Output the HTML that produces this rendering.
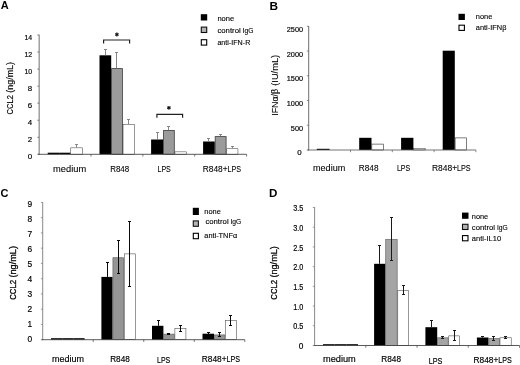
<!DOCTYPE html>
<html><head><meta charset="utf-8"><title>Figure</title>
<style>
html,body{margin:0;padding:0;background:#fff;}
body{width:520px;height:365px;overflow:hidden;font-family:'Liberation Sans', sans-serif;}
svg{display:block;font-family:'Liberation Sans', sans-serif;}
</style></head><body>
<svg width="520" height="365" viewBox="0 0 520 365">
<defs><filter id="soft" x="-2%" y="-2%" width="104%" height="104%"><feGaussianBlur stdDeviation="0.33"/></filter></defs>
<rect width="520" height="365" fill="#fff"/>
<g filter="url(#soft)">
<rect x="47.70" y="152.70" width="11.50" height="1.60" fill="#000"/>
<rect x="59.20" y="152.70" width="11.30" height="1.60" fill="#000"/>
<rect x="70.75" y="147.85" width="11.80" height="6.45" fill="#fff" stroke="#333" stroke-width="0.5"/>
<rect x="99.50" y="55.30" width="11.70" height="99.00" fill="#000"/>
<rect x="111.60" y="68.60" width="10.80" height="85.70" fill="#9b9b9b" stroke="#3c3c3c" stroke-width="0.8"/>
<rect x="123.05" y="124.45" width="11.40" height="29.85" fill="#fff" stroke="#333" stroke-width="0.5"/>
<rect x="151.10" y="139.50" width="12.10" height="14.80" fill="#000"/>
<rect x="163.60" y="130.40" width="10.70" height="23.90" fill="#9b9b9b" stroke="#3c3c3c" stroke-width="0.8"/>
<rect x="174.95" y="151.85" width="11.30" height="2.45" fill="#fff" stroke="#333" stroke-width="0.5"/>
<rect x="203.10" y="141.50" width="11.70" height="12.80" fill="#000"/>
<rect x="215.20" y="136.60" width="10.90" height="17.70" fill="#9b9b9b" stroke="#3c3c3c" stroke-width="0.8"/>
<rect x="226.75" y="148.75" width="11.20" height="5.55" fill="#fff" stroke="#333" stroke-width="0.5"/>
<text x="32.10" y="159.43" font-size="7.9" text-anchor="end" fill="#000" stroke="#000" stroke-width="0.18">0</text>
<text x="32.10" y="142.30" font-size="7.9" text-anchor="end" fill="#000" stroke="#000" stroke-width="0.18">2</text>
<text x="32.10" y="125.17" font-size="7.9" text-anchor="end" fill="#000" stroke="#000" stroke-width="0.18">4</text>
<text x="32.10" y="108.04" font-size="7.9" text-anchor="end" fill="#000" stroke="#000" stroke-width="0.18">6</text>
<text x="32.10" y="90.91" font-size="7.9" text-anchor="end" fill="#000" stroke="#000" stroke-width="0.18">8</text>
<text x="32.10" y="73.79" font-size="7.9" text-anchor="end" fill="#000" stroke="#000" stroke-width="0.18" textLength="7.70" lengthAdjust="spacingAndGlyphs">10</text>
<text x="32.10" y="56.66" font-size="7.9" text-anchor="end" fill="#000" stroke="#000" stroke-width="0.18" textLength="7.70" lengthAdjust="spacingAndGlyphs">12</text>
<text x="32.10" y="39.53" font-size="7.9" text-anchor="end" fill="#000" stroke="#000" stroke-width="0.18" textLength="7.70" lengthAdjust="spacingAndGlyphs">14</text>
<text x="53.10" y="172.25" font-size="9.3" text-anchor="start" fill="#000" stroke="#000" stroke-width="0.1" textLength="33.10" lengthAdjust="spacingAndGlyphs">medium</text>
<text x="110.20" y="172.25" font-size="9.3" text-anchor="start" fill="#000" stroke="#000" stroke-width="0.1" textLength="19.00" lengthAdjust="spacingAndGlyphs">R848</text>
<text x="157.50" y="172.25" font-size="9.3" text-anchor="start" fill="#000" stroke="#000" stroke-width="0.1" textLength="13.30" lengthAdjust="spacingAndGlyphs">LPS</text>
<text x="202.80" y="172.25" font-size="9.3" text-anchor="start" fill="#000" stroke="#000" stroke-width="0.1" textLength="19.97" lengthAdjust="spacingAndGlyphs">R848</text>
<text x="222.77" y="172.25" font-size="9.3" text-anchor="start" fill="#000" stroke="#000" stroke-width="0.1" textLength="4.82" lengthAdjust="spacingAndGlyphs">+</text>
<text x="227.59" y="172.25" font-size="9.3" text-anchor="start" fill="#000" stroke="#000" stroke-width="0.1" textLength="13.51" lengthAdjust="spacingAndGlyphs">LPS</text>
<text x="12.65" y="114.40" font-size="8.8" text-anchor="start" fill="#000" stroke="#000" stroke-width="0.15" textLength="19.29" lengthAdjust="spacingAndGlyphs" transform="rotate(-90 12.65 114.40)">CCL2</text>
<text x="12.65" y="92.71" font-size="8.8" text-anchor="start" fill="#000" stroke="#000" stroke-width="0.15" textLength="30.71" lengthAdjust="spacingAndGlyphs" transform="rotate(-90 12.65 92.71)">(ng/mL)</text>
<text x="0.80" y="9.30" font-size="11" text-anchor="start" fill="#000" font-weight="bold">A</text>
<rect x="200.80" y="14.20" width="6.40" height="6.30" fill="#000"/>
<text x="217.40" y="20.80" font-size="7.3" text-anchor="start" fill="#000" stroke="#000" stroke-width="0.12" textLength="16.80" lengthAdjust="spacingAndGlyphs">none</text>
<rect x="201.30" y="27.10" width="5.40" height="5.40" fill="#b4b4b4" stroke="#111" stroke-width="1.1"/>
<text x="217.40" y="32.90" font-size="7.3" text-anchor="start" fill="#000" stroke="#000" stroke-width="0.12" textLength="23.35" lengthAdjust="spacingAndGlyphs">control</text>
<text x="242.56" y="32.90" font-size="7.3" text-anchor="start" fill="#000" stroke="#000" stroke-width="0.12" textLength="10.84" lengthAdjust="spacingAndGlyphs">IgG</text>
<rect x="201.30" y="39.70" width="5.40" height="5.40" fill="#fff" stroke="#000" stroke-width="1.1"/>
<text x="217.40" y="45.30" font-size="7.3" text-anchor="start" fill="#000" stroke="#000" stroke-width="0.12" textLength="32.90" lengthAdjust="spacingAndGlyphs">anti-IFN-R</text>
<rect x="316.80" y="148.80" width="12.80" height="1.20" fill="#000"/>
<rect x="359.20" y="137.80" width="12.30" height="12.20" fill="#000"/>
<rect x="371.80" y="144.10" width="11.70" height="5.90" fill="#fff" stroke="#2a2a2a" stroke-width="0.6"/>
<rect x="401.10" y="137.80" width="12.30" height="12.20" fill="#000"/>
<rect x="413.65" y="148.65" width="11.50" height="1.35" fill="#fff" stroke="#2a2a2a" stroke-width="0.5"/>
<rect x="442.70" y="50.70" width="12.10" height="99.30" fill="#000"/>
<rect x="455.10" y="137.90" width="11.40" height="12.10" fill="#fff" stroke="#2a2a2a" stroke-width="0.6"/>
<text x="301.70" y="155.13" font-size="7.9" text-anchor="end" fill="#000" stroke="#000" stroke-width="0.18">0</text>
<text x="303.10" y="130.57" font-size="7.9" text-anchor="end" fill="#000" stroke="#000" stroke-width="0.18" textLength="12.24" lengthAdjust="spacingAndGlyphs">500</text>
<text x="303.10" y="106.01" font-size="7.9" text-anchor="end" fill="#000" stroke="#000" stroke-width="0.18" textLength="16.32" lengthAdjust="spacingAndGlyphs">1000</text>
<text x="303.10" y="81.45" font-size="7.9" text-anchor="end" fill="#000" stroke="#000" stroke-width="0.18" textLength="16.32" lengthAdjust="spacingAndGlyphs">1500</text>
<text x="303.10" y="56.89" font-size="7.9" text-anchor="end" fill="#000" stroke="#000" stroke-width="0.18" textLength="16.32" lengthAdjust="spacingAndGlyphs">2000</text>
<text x="303.10" y="32.33" font-size="7.9" text-anchor="end" fill="#000" stroke="#000" stroke-width="0.18" textLength="16.32" lengthAdjust="spacingAndGlyphs">2500</text>
<text x="313.00" y="171.20" font-size="9.3" text-anchor="start" fill="#000" stroke="#000" stroke-width="0.1" textLength="32.30" lengthAdjust="spacingAndGlyphs">medium</text>
<text x="358.80" y="171.20" font-size="9.3" text-anchor="start" fill="#000" stroke="#000" stroke-width="0.1" textLength="19.70" lengthAdjust="spacingAndGlyphs">R848</text>
<text x="396.90" y="171.20" font-size="9.3" text-anchor="start" fill="#000" stroke="#000" stroke-width="0.1" textLength="13.40" lengthAdjust="spacingAndGlyphs">LPS</text>
<text x="431.90" y="171.20" font-size="9.3" text-anchor="start" fill="#000" stroke="#000" stroke-width="0.1" textLength="20.23" lengthAdjust="spacingAndGlyphs">R848</text>
<text x="452.13" y="171.20" font-size="9.3" text-anchor="start" fill="#000" stroke="#000" stroke-width="0.1" textLength="4.88" lengthAdjust="spacingAndGlyphs">+</text>
<text x="457.02" y="171.20" font-size="9.3" text-anchor="start" fill="#000" stroke="#000" stroke-width="0.1" textLength="13.68" lengthAdjust="spacingAndGlyphs">LPS</text>
<text x="278.30" y="115.80" font-size="8.8" text-anchor="start" fill="#000" stroke="#000" stroke-width="0.1" textLength="27.00" lengthAdjust="spacingAndGlyphs" transform="rotate(-90 278.30 115.80)">IFNα/β</text>
<text x="278.30" y="85.80" font-size="8.8" text-anchor="start" fill="#000" stroke="#000" stroke-width="0.1" textLength="31.00" lengthAdjust="spacingAndGlyphs" transform="rotate(-90 278.30 85.80)">(IU/mL)</text>
<text x="269.50" y="9.85" font-size="11.8" text-anchor="start" fill="#000" font-weight="bold">B</text>
<rect x="458.50" y="13.80" width="6.40" height="6.20" fill="#000"/>
<text x="475.80" y="18.60" font-size="7.3" text-anchor="start" fill="#000" stroke="#000" stroke-width="0.12" textLength="16.50" lengthAdjust="spacingAndGlyphs">none</text>
<rect x="459.00" y="25.20" width="5.40" height="5.20" fill="#fff" stroke="#000" stroke-width="1.1"/>
<text x="475.80" y="30.40" font-size="7.3" text-anchor="start" fill="#000" stroke="#000" stroke-width="0.12" textLength="30.70" lengthAdjust="spacingAndGlyphs">anti-IFNβ</text>
<rect x="51.00" y="338.20" width="11.30" height="1.50" fill="#000"/>
<rect x="62.30" y="338.20" width="11.20" height="1.50" fill="#000"/>
<rect x="73.50" y="338.20" width="11.10" height="1.50" fill="#000"/>
<rect x="101.40" y="276.90" width="11.20" height="62.80" fill="#000"/>
<rect x="112.92" y="257.72" width="10.75" height="81.98" fill="#959595" stroke="#606060" stroke-width="0.65"/>
<rect x="124.28" y="253.88" width="11.05" height="85.82" fill="#fff" stroke="#444" stroke-width="0.55"/>
<rect x="152.00" y="325.80" width="11.40" height="13.90" fill="#000"/>
<rect x="163.72" y="334.12" width="10.55" height="5.57" fill="#959595" stroke="#606060" stroke-width="0.65"/>
<rect x="174.88" y="328.67" width="11.05" height="11.03" fill="#fff" stroke="#444" stroke-width="0.55"/>
<rect x="202.50" y="333.70" width="11.50" height="6.00" fill="#000"/>
<rect x="214.32" y="334.93" width="10.55" height="4.77" fill="#959595" stroke="#606060" stroke-width="0.65"/>
<rect x="225.47" y="320.57" width="10.95" height="19.12" fill="#fff" stroke="#444" stroke-width="0.55"/>
<text x="32.20" y="342.31" font-size="8.4" text-anchor="end" fill="#000" stroke="#000" stroke-width="0.18">0</text>
<text x="32.20" y="327.25" font-size="8.4" text-anchor="end" fill="#000" stroke="#000" stroke-width="0.18">1</text>
<text x="32.20" y="312.20" font-size="8.4" text-anchor="end" fill="#000" stroke="#000" stroke-width="0.18">2</text>
<text x="32.20" y="297.14" font-size="8.4" text-anchor="end" fill="#000" stroke="#000" stroke-width="0.18">3</text>
<text x="32.20" y="282.08" font-size="8.4" text-anchor="end" fill="#000" stroke="#000" stroke-width="0.18">4</text>
<text x="32.20" y="267.03" font-size="8.4" text-anchor="end" fill="#000" stroke="#000" stroke-width="0.18">5</text>
<text x="32.20" y="251.97" font-size="8.4" text-anchor="end" fill="#000" stroke="#000" stroke-width="0.18">6</text>
<text x="32.20" y="236.92" font-size="8.4" text-anchor="end" fill="#000" stroke="#000" stroke-width="0.18">7</text>
<text x="32.20" y="221.86" font-size="8.4" text-anchor="end" fill="#000" stroke="#000" stroke-width="0.18">8</text>
<text x="32.20" y="206.81" font-size="8.4" text-anchor="end" fill="#000" stroke="#000" stroke-width="0.18">9</text>
<text x="52.00" y="361.70" font-size="9.3" text-anchor="start" fill="#000" stroke="#000" stroke-width="0.18" textLength="31.90" lengthAdjust="spacingAndGlyphs">medium</text>
<text x="110.20" y="361.70" font-size="9.3" text-anchor="start" fill="#000" stroke="#000" stroke-width="0.18" textLength="19.60" lengthAdjust="spacingAndGlyphs">R848</text>
<text x="157.00" y="362.70" font-size="9.3" text-anchor="start" fill="#000" stroke="#000" stroke-width="0.18" textLength="13.20" lengthAdjust="spacingAndGlyphs">LPS</text>
<text x="201.80" y="362.00" font-size="9.3" text-anchor="start" fill="#000" stroke="#000" stroke-width="0.18" textLength="19.92" lengthAdjust="spacingAndGlyphs">R848</text>
<text x="221.72" y="362.00" font-size="9.3" text-anchor="start" fill="#000" stroke="#000" stroke-width="0.18" textLength="4.81" lengthAdjust="spacingAndGlyphs">+</text>
<text x="226.53" y="362.00" font-size="9.3" text-anchor="start" fill="#000" stroke="#000" stroke-width="0.18" textLength="13.47" lengthAdjust="spacingAndGlyphs">LPS</text>
<text x="16.40" y="299.80" font-size="9.5" text-anchor="start" fill="#000" stroke="#000" stroke-width="0.3" textLength="19.81" lengthAdjust="spacingAndGlyphs" transform="rotate(-90 16.40 299.80)">CCL2</text>
<text x="16.40" y="277.59" font-size="9.5" text-anchor="start" fill="#000" stroke="#000" stroke-width="0.3" textLength="31.59" lengthAdjust="spacingAndGlyphs" transform="rotate(-90 16.40 277.59)">(ng/mL)</text>
<text x="0.55" y="196.95" font-size="11" text-anchor="start" fill="#000" font-weight="bold">C</text>
<rect x="192.80" y="207.80" width="6.10" height="7.20" fill="#000"/>
<text x="204.30" y="213.80" font-size="7.3" text-anchor="start" fill="#000" stroke="#000" stroke-width="0.12" textLength="16.50" lengthAdjust="spacingAndGlyphs">none</text>
<rect x="193.30" y="220.90" width="5.10" height="5.40" fill="#b4b4b4" stroke="#111" stroke-width="1.1"/>
<text x="205.40" y="224.20" font-size="7.3" text-anchor="start" fill="#000" stroke="#000" stroke-width="0.12" textLength="23.22" lengthAdjust="spacingAndGlyphs">control</text>
<text x="230.42" y="224.20" font-size="7.3" text-anchor="start" fill="#000" stroke="#000" stroke-width="0.12" textLength="10.78" lengthAdjust="spacingAndGlyphs">IgG</text>
<rect x="193.30" y="233.30" width="5.10" height="5.40" fill="#fff" stroke="#000" stroke-width="1.1"/>
<text x="204.30" y="237.60" font-size="7.3" text-anchor="start" fill="#000" stroke="#000" stroke-width="0.12" textLength="32.90" lengthAdjust="spacingAndGlyphs">anti-TNFα</text>
<rect x="323.00" y="344.20" width="11.60" height="1.30" fill="#000"/>
<rect x="334.60" y="344.20" width="11.70" height="1.30" fill="#000"/>
<rect x="346.30" y="344.20" width="11.70" height="1.30" fill="#000"/>
<rect x="374.10" y="263.80" width="11.30" height="81.70" fill="#000"/>
<rect x="385.72" y="239.42" width="11.45" height="106.08" fill="#a4a4a4" stroke="#606060" stroke-width="0.65"/>
<rect x="397.77" y="290.47" width="10.85" height="55.03" fill="#fff" stroke="#444" stroke-width="0.55"/>
<rect x="425.40" y="327.20" width="11.80" height="18.30" fill="#000"/>
<rect x="437.52" y="337.82" width="10.65" height="7.67" fill="#a4a4a4" stroke="#606060" stroke-width="0.65"/>
<rect x="448.77" y="335.88" width="10.95" height="9.62" fill="#fff" stroke="#444" stroke-width="0.55"/>
<rect x="476.90" y="337.50" width="11.60" height="8.00" fill="#000"/>
<rect x="488.82" y="338.52" width="10.55" height="6.98" fill="#a4a4a4" stroke="#606060" stroke-width="0.65"/>
<rect x="499.97" y="337.77" width="11.25" height="7.72" fill="#fff" stroke="#444" stroke-width="0.55"/>
<text x="303.40" y="349.07" font-size="8.3" text-anchor="end" fill="#000" stroke="#000" stroke-width="0.18">0</text>
<text x="303.40" y="329.39" font-size="8.3" text-anchor="end" fill="#000" stroke="#000" stroke-width="0.18" textLength="10.10" lengthAdjust="spacingAndGlyphs">0.5</text>
<text x="303.40" y="309.70" font-size="8.3" text-anchor="end" fill="#000" stroke="#000" stroke-width="0.18" textLength="10.10" lengthAdjust="spacingAndGlyphs">1.0</text>
<text x="303.40" y="290.01" font-size="8.3" text-anchor="end" fill="#000" stroke="#000" stroke-width="0.18" textLength="10.10" lengthAdjust="spacingAndGlyphs">1.5</text>
<text x="303.40" y="270.33" font-size="8.3" text-anchor="end" fill="#000" stroke="#000" stroke-width="0.18" textLength="10.10" lengthAdjust="spacingAndGlyphs">2.0</text>
<text x="303.40" y="250.64" font-size="8.3" text-anchor="end" fill="#000" stroke="#000" stroke-width="0.18" textLength="10.10" lengthAdjust="spacingAndGlyphs">2.5</text>
<text x="303.40" y="230.96" font-size="8.3" text-anchor="end" fill="#000" stroke="#000" stroke-width="0.18" textLength="10.10" lengthAdjust="spacingAndGlyphs">3.0</text>
<text x="303.40" y="211.27" font-size="8.3" text-anchor="end" fill="#000" stroke="#000" stroke-width="0.18" textLength="10.10" lengthAdjust="spacingAndGlyphs">3.5</text>
<text x="323.00" y="362.30" font-size="9.3" text-anchor="start" fill="#000" stroke="#000" stroke-width="0.18" textLength="32.80" lengthAdjust="spacingAndGlyphs">medium</text>
<text x="381.20" y="362.30" font-size="9.3" text-anchor="start" fill="#000" stroke="#000" stroke-width="0.18" textLength="19.80" lengthAdjust="spacingAndGlyphs">R848</text>
<text x="428.80" y="363.50" font-size="9.3" text-anchor="start" fill="#000" stroke="#000" stroke-width="0.18" textLength="13.60" lengthAdjust="spacingAndGlyphs">LPS</text>
<text x="473.50" y="362.50" font-size="9.3" text-anchor="start" fill="#000" stroke="#000" stroke-width="0.18" textLength="19.97" lengthAdjust="spacingAndGlyphs">R848</text>
<text x="493.47" y="362.50" font-size="9.3" text-anchor="start" fill="#000" stroke="#000" stroke-width="0.18" textLength="4.82" lengthAdjust="spacingAndGlyphs">+</text>
<text x="498.29" y="362.50" font-size="9.3" text-anchor="start" fill="#000" stroke="#000" stroke-width="0.18" textLength="13.51" lengthAdjust="spacingAndGlyphs">LPS</text>
<text x="276.90" y="299.65" font-size="9.3" text-anchor="start" fill="#000" stroke="#000" stroke-width="0.28" textLength="19.70" lengthAdjust="spacingAndGlyphs" transform="rotate(-90 276.90 299.65)">CCL2</text>
<text x="276.90" y="277.55" font-size="9.3" text-anchor="start" fill="#000" stroke="#000" stroke-width="0.28" textLength="31.40" lengthAdjust="spacingAndGlyphs" transform="rotate(-90 276.90 277.55)">(ng/mL)</text>
<text x="269.10" y="197.10" font-size="11.6" text-anchor="start" fill="#000" font-weight="bold">D</text>
<rect x="462.00" y="212.60" width="6.50" height="6.20" fill="#000"/>
<text x="471.80" y="218.50" font-size="7.6" text-anchor="start" fill="#000" stroke="#000" stroke-width="0.12" textLength="16.40" lengthAdjust="spacingAndGlyphs">none</text>
<rect x="462.50" y="224.30" width="5.50" height="5.20" fill="#b4b4b4" stroke="#111" stroke-width="1.1"/>
<text x="471.80" y="229.50" font-size="7.6" text-anchor="start" fill="#000" stroke="#000" stroke-width="0.12" textLength="23.28" lengthAdjust="spacingAndGlyphs">control</text>
<text x="496.89" y="229.50" font-size="7.6" text-anchor="start" fill="#000" stroke="#000" stroke-width="0.12" textLength="10.81" lengthAdjust="spacingAndGlyphs">IgG</text>
<rect x="462.50" y="235.60" width="5.50" height="5.20" fill="#fff" stroke="#000" stroke-width="1.1"/>
<text x="471.80" y="240.80" font-size="7.6" text-anchor="start" fill="#000" stroke="#000" stroke-width="0.12" textLength="29.30" lengthAdjust="spacingAndGlyphs">anti-IL10</text>
<polyline points="103.6,43.6 103.6,40 129.6,40 129.6,43.6" fill="none" stroke="#222" stroke-width="1.2"/>
<line x1="116.90" y1="32.60" x2="116.90" y2="36.40" stroke="#111" stroke-width="1.15"/>
<line x1="115.25" y1="33.55" x2="118.55" y2="35.45" stroke="#111" stroke-width="1.15"/>
<line x1="118.55" y1="33.55" x2="115.25" y2="35.45" stroke="#111" stroke-width="1.15"/>
<polyline points="156.9,117.7 156.9,114.3 182.6,114.3 182.6,117.7" fill="none" stroke="#222" stroke-width="1.2"/>
<line x1="168.90" y1="105.90" x2="168.90" y2="109.70" stroke="#111" stroke-width="1.15"/>
<line x1="167.25" y1="106.85" x2="170.55" y2="108.75" stroke="#111" stroke-width="1.15"/>
<line x1="170.55" y1="106.85" x2="167.25" y2="108.75" stroke="#111" stroke-width="1.15"/>
</g>
<g>
<line x1="76.50" y1="144.50" x2="76.50" y2="147.60" stroke="#7a7a7a" stroke-width="0.9"/>
<line x1="75.00" y1="144.50" x2="78.00" y2="144.50" stroke="#7a7a7a" stroke-width="0.9"/>
<line x1="105.50" y1="49.50" x2="105.50" y2="55.30" stroke="#7a7a7a" stroke-width="0.9"/>
<line x1="104.00" y1="49.50" x2="107.00" y2="49.50" stroke="#7a7a7a" stroke-width="0.9"/>
<line x1="116.50" y1="52.50" x2="116.50" y2="68.20" stroke="#7a7a7a" stroke-width="0.9"/>
<line x1="115.00" y1="52.50" x2="118.00" y2="52.50" stroke="#7a7a7a" stroke-width="0.9"/>
<line x1="128.50" y1="119.50" x2="128.50" y2="124.20" stroke="#7a7a7a" stroke-width="0.9"/>
<line x1="127.00" y1="119.50" x2="130.00" y2="119.50" stroke="#7a7a7a" stroke-width="0.9"/>
<line x1="157.50" y1="132.50" x2="157.50" y2="139.50" stroke="#7a7a7a" stroke-width="0.9"/>
<line x1="156.00" y1="132.50" x2="159.00" y2="132.50" stroke="#7a7a7a" stroke-width="0.9"/>
<line x1="168.50" y1="126.50" x2="168.50" y2="130.00" stroke="#7a7a7a" stroke-width="0.9"/>
<line x1="167.00" y1="126.50" x2="170.00" y2="126.50" stroke="#7a7a7a" stroke-width="0.9"/>
<line x1="208.50" y1="138.50" x2="208.50" y2="141.50" stroke="#7a7a7a" stroke-width="0.9"/>
<line x1="207.00" y1="138.50" x2="210.00" y2="138.50" stroke="#7a7a7a" stroke-width="0.9"/>
<line x1="220.50" y1="134.50" x2="220.50" y2="136.20" stroke="#7a7a7a" stroke-width="0.9"/>
<line x1="219.00" y1="134.50" x2="222.00" y2="134.50" stroke="#7a7a7a" stroke-width="0.9"/>
<line x1="232.50" y1="146.50" x2="232.50" y2="148.50" stroke="#7a7a7a" stroke-width="0.9"/>
<line x1="231.00" y1="146.50" x2="234.00" y2="146.50" stroke="#7a7a7a" stroke-width="0.9"/>
<line x1="39.15" y1="34.70" x2="39.15" y2="154.70" stroke="#555555" stroke-width="0.85"/>
<line x1="38.07" y1="154.30" x2="246.60" y2="154.30" stroke="#3c3c3c" stroke-width="0.85"/>
<line x1="37.35" y1="154.30" x2="39.15" y2="154.30" stroke="#555555" stroke-width="0.7"/>
<line x1="37.35" y1="137.26" x2="39.15" y2="137.26" stroke="#555555" stroke-width="0.7"/>
<line x1="37.35" y1="120.21" x2="39.15" y2="120.21" stroke="#555555" stroke-width="0.7"/>
<line x1="37.35" y1="103.17" x2="39.15" y2="103.17" stroke="#555555" stroke-width="0.7"/>
<line x1="37.35" y1="86.13" x2="39.15" y2="86.13" stroke="#555555" stroke-width="0.7"/>
<line x1="37.35" y1="69.09" x2="39.15" y2="69.09" stroke="#555555" stroke-width="0.7"/>
<line x1="37.35" y1="52.04" x2="39.15" y2="52.04" stroke="#555555" stroke-width="0.7"/>
<line x1="37.35" y1="35.00" x2="39.15" y2="35.00" stroke="#555555" stroke-width="0.7"/>
<line x1="91.01" y1="154.30" x2="91.01" y2="156.50" stroke="#3c3c3c" stroke-width="0.7"/>
<line x1="142.88" y1="154.30" x2="142.88" y2="156.50" stroke="#3c3c3c" stroke-width="0.7"/>
<line x1="194.74" y1="154.30" x2="194.74" y2="156.50" stroke="#3c3c3c" stroke-width="0.7"/>
<line x1="246.60" y1="154.30" x2="246.60" y2="156.50" stroke="#3c3c3c" stroke-width="0.7"/>
<line x1="308.70" y1="26.00" x2="308.70" y2="150.40" stroke="#555555" stroke-width="0.85"/>
<line x1="307.62" y1="150.00" x2="475.90" y2="150.00" stroke="#5a5a5a" stroke-width="0.85"/>
<line x1="306.90" y1="150.00" x2="308.70" y2="150.00" stroke="#555555" stroke-width="0.7"/>
<line x1="306.90" y1="125.26" x2="308.70" y2="125.26" stroke="#555555" stroke-width="0.7"/>
<line x1="306.90" y1="100.52" x2="308.70" y2="100.52" stroke="#555555" stroke-width="0.7"/>
<line x1="306.90" y1="75.78" x2="308.70" y2="75.78" stroke="#555555" stroke-width="0.7"/>
<line x1="306.90" y1="51.04" x2="308.70" y2="51.04" stroke="#555555" stroke-width="0.7"/>
<line x1="306.90" y1="26.30" x2="308.70" y2="26.30" stroke="#555555" stroke-width="0.7"/>
<line x1="350.50" y1="150.00" x2="350.50" y2="152.20" stroke="#5a5a5a" stroke-width="0.7"/>
<line x1="392.30" y1="150.00" x2="392.30" y2="152.20" stroke="#5a5a5a" stroke-width="0.7"/>
<line x1="434.10" y1="150.00" x2="434.10" y2="152.20" stroke="#5a5a5a" stroke-width="0.7"/>
<line x1="475.90" y1="150.00" x2="475.90" y2="152.20" stroke="#5a5a5a" stroke-width="0.7"/>
<line x1="107.50" y1="262.50" x2="107.50" y2="276.90" stroke="#0a0a0a" stroke-width="1.0"/>
<line x1="106.00" y1="262.50" x2="109.00" y2="262.50" stroke="#0a0a0a" stroke-width="1.0"/>
<line x1="118.50" y1="240.50" x2="118.50" y2="273.50" stroke="#0a0a0a" stroke-width="1.0"/>
<line x1="117.00" y1="240.50" x2="120.00" y2="240.50" stroke="#0a0a0a" stroke-width="1.0"/>
<line x1="117.00" y1="273.50" x2="120.00" y2="273.50" stroke="#0a0a0a" stroke-width="1.0"/>
<line x1="129.50" y1="221.50" x2="129.50" y2="286.50" stroke="#0a0a0a" stroke-width="1.0"/>
<line x1="128.00" y1="221.50" x2="131.00" y2="221.50" stroke="#0a0a0a" stroke-width="1.0"/>
<line x1="128.00" y1="286.50" x2="131.00" y2="286.50" stroke="#0a0a0a" stroke-width="1.0"/>
<line x1="158.50" y1="320.50" x2="158.50" y2="325.80" stroke="#0a0a0a" stroke-width="1.0"/>
<line x1="157.00" y1="320.50" x2="160.00" y2="320.50" stroke="#0a0a0a" stroke-width="1.0"/>
<line x1="168.50" y1="333.50" x2="168.50" y2="334.50" stroke="#0a0a0a" stroke-width="1.0"/>
<line x1="167.00" y1="333.50" x2="170.00" y2="333.50" stroke="#0a0a0a" stroke-width="1.0"/>
<line x1="167.00" y1="334.50" x2="170.00" y2="334.50" stroke="#0a0a0a" stroke-width="1.0"/>
<line x1="180.50" y1="325.50" x2="180.50" y2="331.50" stroke="#0a0a0a" stroke-width="1.0"/>
<line x1="179.00" y1="325.50" x2="182.00" y2="325.50" stroke="#0a0a0a" stroke-width="1.0"/>
<line x1="179.00" y1="331.50" x2="182.00" y2="331.50" stroke="#0a0a0a" stroke-width="1.0"/>
<line x1="208.50" y1="332.50" x2="208.50" y2="334.50" stroke="#0a0a0a" stroke-width="1.0"/>
<line x1="207.00" y1="332.50" x2="210.00" y2="332.50" stroke="#0a0a0a" stroke-width="1.0"/>
<line x1="207.00" y1="334.50" x2="210.00" y2="334.50" stroke="#0a0a0a" stroke-width="1.0"/>
<line x1="219.50" y1="332.50" x2="219.50" y2="336.50" stroke="#0a0a0a" stroke-width="1.0"/>
<line x1="218.00" y1="332.50" x2="221.00" y2="332.50" stroke="#0a0a0a" stroke-width="1.0"/>
<line x1="218.00" y1="336.50" x2="221.00" y2="336.50" stroke="#0a0a0a" stroke-width="1.0"/>
<line x1="230.50" y1="315.50" x2="230.50" y2="325.50" stroke="#0a0a0a" stroke-width="1.0"/>
<line x1="229.00" y1="315.50" x2="232.00" y2="315.50" stroke="#0a0a0a" stroke-width="1.0"/>
<line x1="229.00" y1="325.50" x2="232.00" y2="325.50" stroke="#0a0a0a" stroke-width="1.0"/>
<line x1="42.70" y1="202.10" x2="42.70" y2="340.10" stroke="#747474" stroke-width="0.85"/>
<line x1="41.62" y1="339.70" x2="244.80" y2="339.70" stroke="#3c3c3c" stroke-width="0.85"/>
<line x1="40.90" y1="339.70" x2="42.70" y2="339.70" stroke="#747474" stroke-width="0.7"/>
<line x1="40.90" y1="324.44" x2="42.70" y2="324.44" stroke="#747474" stroke-width="0.7"/>
<line x1="40.90" y1="309.19" x2="42.70" y2="309.19" stroke="#747474" stroke-width="0.7"/>
<line x1="40.90" y1="293.93" x2="42.70" y2="293.93" stroke="#747474" stroke-width="0.7"/>
<line x1="40.90" y1="278.68" x2="42.70" y2="278.68" stroke="#747474" stroke-width="0.7"/>
<line x1="40.90" y1="263.42" x2="42.70" y2="263.42" stroke="#747474" stroke-width="0.7"/>
<line x1="40.90" y1="248.17" x2="42.70" y2="248.17" stroke="#747474" stroke-width="0.7"/>
<line x1="40.90" y1="232.91" x2="42.70" y2="232.91" stroke="#747474" stroke-width="0.7"/>
<line x1="40.90" y1="217.66" x2="42.70" y2="217.66" stroke="#747474" stroke-width="0.7"/>
<line x1="40.90" y1="202.40" x2="42.70" y2="202.40" stroke="#747474" stroke-width="0.7"/>
<line x1="93.23" y1="339.70" x2="93.23" y2="341.90" stroke="#3c3c3c" stroke-width="0.7"/>
<line x1="143.75" y1="339.70" x2="143.75" y2="341.90" stroke="#3c3c3c" stroke-width="0.7"/>
<line x1="194.28" y1="339.70" x2="194.28" y2="341.90" stroke="#3c3c3c" stroke-width="0.7"/>
<line x1="244.80" y1="339.70" x2="244.80" y2="341.90" stroke="#3c3c3c" stroke-width="0.7"/>
<line x1="379.50" y1="245.50" x2="379.50" y2="263.80" stroke="#1a1a1a" stroke-width="1.0"/>
<line x1="378.00" y1="245.50" x2="381.00" y2="245.50" stroke="#1a1a1a" stroke-width="1.0"/>
<line x1="391.50" y1="217.50" x2="391.50" y2="260.50" stroke="#1a1a1a" stroke-width="1.0"/>
<line x1="390.00" y1="217.50" x2="393.00" y2="217.50" stroke="#1a1a1a" stroke-width="1.0"/>
<line x1="390.00" y1="260.50" x2="393.00" y2="260.50" stroke="#1a1a1a" stroke-width="1.0"/>
<line x1="403.50" y1="285.50" x2="403.50" y2="294.50" stroke="#1a1a1a" stroke-width="1.0"/>
<line x1="402.00" y1="285.50" x2="405.00" y2="285.50" stroke="#1a1a1a" stroke-width="1.0"/>
<line x1="402.00" y1="294.50" x2="405.00" y2="294.50" stroke="#1a1a1a" stroke-width="1.0"/>
<line x1="431.50" y1="320.50" x2="431.50" y2="327.20" stroke="#1a1a1a" stroke-width="1.0"/>
<line x1="430.00" y1="320.50" x2="433.00" y2="320.50" stroke="#1a1a1a" stroke-width="1.0"/>
<line x1="442.50" y1="336.50" x2="442.50" y2="338.50" stroke="#1a1a1a" stroke-width="1.0"/>
<line x1="441.00" y1="336.50" x2="444.00" y2="336.50" stroke="#1a1a1a" stroke-width="1.0"/>
<line x1="441.00" y1="338.50" x2="444.00" y2="338.50" stroke="#1a1a1a" stroke-width="1.0"/>
<line x1="454.50" y1="330.50" x2="454.50" y2="340.50" stroke="#1a1a1a" stroke-width="1.0"/>
<line x1="453.00" y1="330.50" x2="456.00" y2="330.50" stroke="#1a1a1a" stroke-width="1.0"/>
<line x1="453.00" y1="340.50" x2="456.00" y2="340.50" stroke="#1a1a1a" stroke-width="1.0"/>
<line x1="482.50" y1="336.50" x2="482.50" y2="337.60" stroke="#1a1a1a" stroke-width="1.0"/>
<line x1="481.00" y1="336.50" x2="484.00" y2="336.50" stroke="#1a1a1a" stroke-width="1.0"/>
<line x1="493.50" y1="336.50" x2="493.50" y2="340.50" stroke="#1a1a1a" stroke-width="1.0"/>
<line x1="492.00" y1="336.50" x2="495.00" y2="336.50" stroke="#1a1a1a" stroke-width="1.0"/>
<line x1="492.00" y1="340.50" x2="495.00" y2="340.50" stroke="#1a1a1a" stroke-width="1.0"/>
<line x1="505.50" y1="336.50" x2="505.50" y2="338.50" stroke="#1a1a1a" stroke-width="1.0"/>
<line x1="504.00" y1="336.50" x2="507.00" y2="336.50" stroke="#1a1a1a" stroke-width="1.0"/>
<line x1="504.00" y1="338.50" x2="507.00" y2="338.50" stroke="#1a1a1a" stroke-width="1.0"/>
<line x1="314.60" y1="207.20" x2="314.60" y2="345.90" stroke="#747474" stroke-width="0.85"/>
<line x1="313.52" y1="345.50" x2="519.50" y2="345.50" stroke="#3c3c3c" stroke-width="0.85"/>
<line x1="312.80" y1="345.50" x2="314.60" y2="345.50" stroke="#747474" stroke-width="0.7"/>
<line x1="312.80" y1="325.79" x2="314.60" y2="325.79" stroke="#747474" stroke-width="0.7"/>
<line x1="312.80" y1="306.07" x2="314.60" y2="306.07" stroke="#747474" stroke-width="0.7"/>
<line x1="312.80" y1="286.36" x2="314.60" y2="286.36" stroke="#747474" stroke-width="0.7"/>
<line x1="312.80" y1="266.64" x2="314.60" y2="266.64" stroke="#747474" stroke-width="0.7"/>
<line x1="312.80" y1="246.93" x2="314.60" y2="246.93" stroke="#747474" stroke-width="0.7"/>
<line x1="312.80" y1="227.21" x2="314.60" y2="227.21" stroke="#747474" stroke-width="0.7"/>
<line x1="312.80" y1="207.50" x2="314.60" y2="207.50" stroke="#747474" stroke-width="0.7"/>
<line x1="365.83" y1="345.50" x2="365.83" y2="347.70" stroke="#3c3c3c" stroke-width="0.7"/>
<line x1="417.05" y1="345.50" x2="417.05" y2="347.70" stroke="#3c3c3c" stroke-width="0.7"/>
<line x1="468.27" y1="345.50" x2="468.27" y2="347.70" stroke="#3c3c3c" stroke-width="0.7"/>
<line x1="519.50" y1="345.50" x2="519.50" y2="347.70" stroke="#3c3c3c" stroke-width="0.7"/>
</g>
</svg>
</body></html>
